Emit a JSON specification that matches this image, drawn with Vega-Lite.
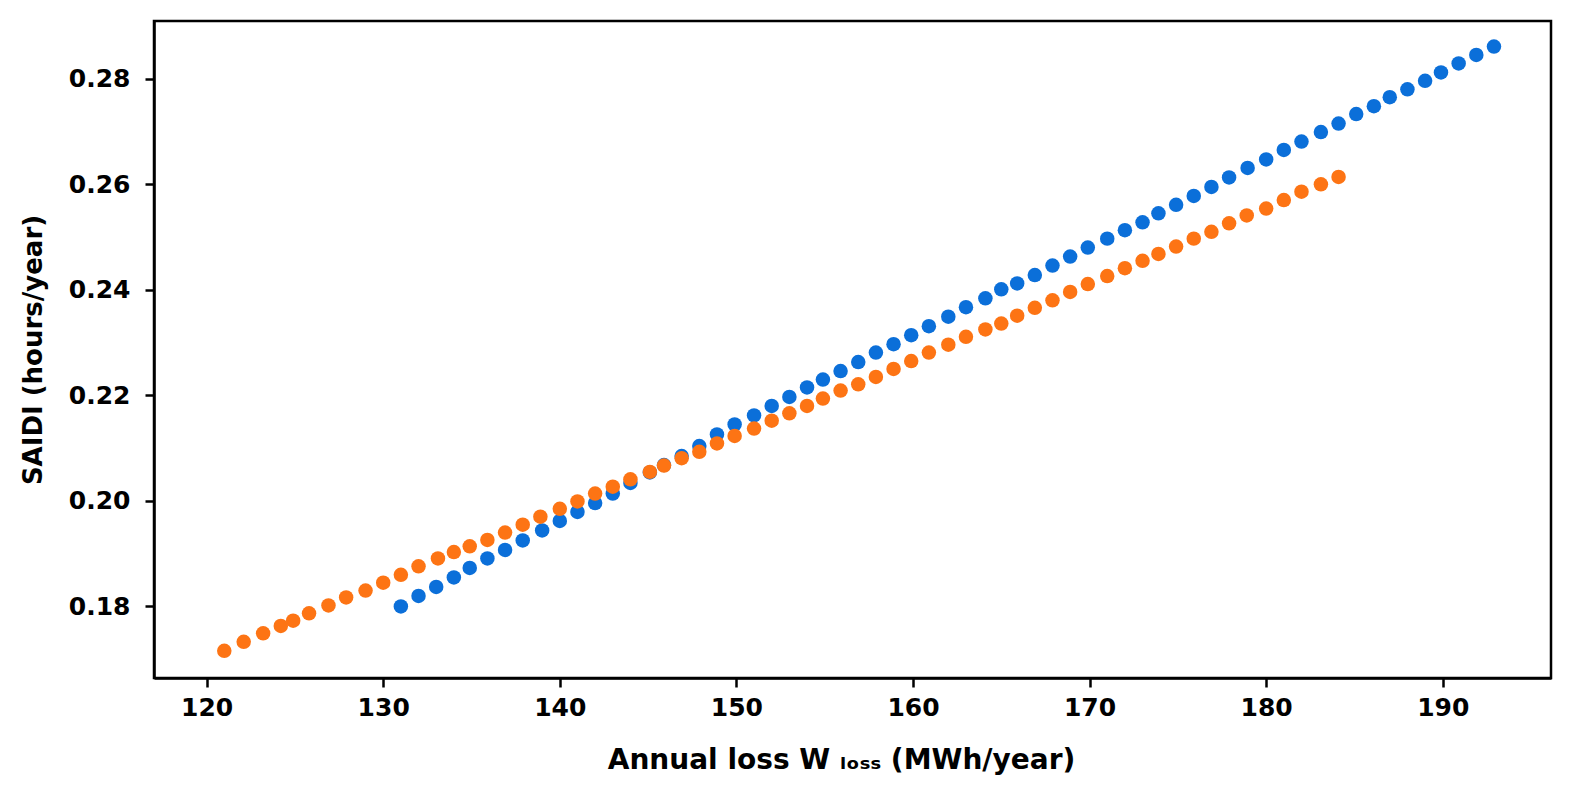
{
  "$schema": "https://vega.github.io/schema/vega-lite/v6.json",
  "width": 1397,
  "height": 657,
  "autosize": {"type": "none"},
  "padding": {"left": 154, "top": 21, "right": 20, "bottom": 115},
  "background": "white",
  "config": {
    "font": "DejaVu Sans",
    "view": {"stroke": "black", "strokeWidth": 2.5}
  },
  "data": {
    "values": [
      {"s": "blue", "w": 131, "saidi": 0.1800},
      {"s": "blue", "w": 132, "saidi": 0.1820},
      {"s": "blue", "w": 133, "saidi": 0.1837},
      {"s": "blue", "w": 134, "saidi": 0.1855},
      {"s": "blue", "w": 134.9, "saidi": 0.1873},
      {"s": "blue", "w": 135.9, "saidi": 0.1891},
      {"s": "blue", "w": 136.9, "saidi": 0.1907},
      {"s": "blue", "w": 137.9, "saidi": 0.1925},
      {"s": "blue", "w": 139, "saidi": 0.1944},
      {"s": "blue", "w": 140, "saidi": 0.1962},
      {"s": "blue", "w": 141, "saidi": 0.1979},
      {"s": "blue", "w": 142, "saidi": 0.1996},
      {"s": "blue", "w": 143, "saidi": 0.2014},
      {"s": "blue", "w": 144, "saidi": 0.2034},
      {"s": "blue", "w": 145.1, "saidi": 0.2054},
      {"s": "blue", "w": 145.9, "saidi": 0.2068},
      {"s": "blue", "w": 146.9, "saidi": 0.2085},
      {"s": "blue", "w": 147.9, "saidi": 0.2104},
      {"s": "blue", "w": 148.9, "saidi": 0.2126},
      {"s": "blue", "w": 149.9, "saidi": 0.2145},
      {"s": "blue", "w": 151, "saidi": 0.2162},
      {"s": "blue", "w": 152, "saidi": 0.2180},
      {"s": "blue", "w": 153, "saidi": 0.2197},
      {"s": "blue", "w": 154, "saidi": 0.2215},
      {"s": "blue", "w": 154.9, "saidi": 0.2230},
      {"s": "blue", "w": 155.9, "saidi": 0.2246},
      {"s": "blue", "w": 156.9, "saidi": 0.2263},
      {"s": "blue", "w": 157.9, "saidi": 0.2281},
      {"s": "blue", "w": 158.9, "saidi": 0.2297},
      {"s": "blue", "w": 159.9, "saidi": 0.2314},
      {"s": "blue", "w": 160.9, "saidi": 0.2331},
      {"s": "blue", "w": 162, "saidi": 0.2349},
      {"s": "blue", "w": 163, "saidi": 0.2367},
      {"s": "blue", "w": 164.1, "saidi": 0.2384},
      {"s": "blue", "w": 165, "saidi": 0.2401},
      {"s": "blue", "w": 165.9, "saidi": 0.2412},
      {"s": "blue", "w": 166.9, "saidi": 0.2428},
      {"s": "blue", "w": 167.9, "saidi": 0.2446},
      {"s": "blue", "w": 168.9, "saidi": 0.2463},
      {"s": "blue", "w": 169.9, "saidi": 0.2480},
      {"s": "blue", "w": 171, "saidi": 0.2497},
      {"s": "blue", "w": 172, "saidi": 0.2513},
      {"s": "blue", "w": 173, "saidi": 0.2528},
      {"s": "blue", "w": 173.9, "saidi": 0.2545},
      {"s": "blue", "w": 174.9, "saidi": 0.2561},
      {"s": "blue", "w": 175.9, "saidi": 0.2578},
      {"s": "blue", "w": 176.9, "saidi": 0.2595},
      {"s": "blue", "w": 177.9, "saidi": 0.2613},
      {"s": "blue", "w": 178.95, "saidi": 0.2631},
      {"s": "blue", "w": 180, "saidi": 0.2647},
      {"s": "blue", "w": 181, "saidi": 0.2665},
      {"s": "blue", "w": 182, "saidi": 0.2681},
      {"s": "blue", "w": 183.1, "saidi": 0.2699},
      {"s": "blue", "w": 184.1, "saidi": 0.2715},
      {"s": "blue", "w": 185.1, "saidi": 0.2733},
      {"s": "blue", "w": 186.1, "saidi": 0.2748},
      {"s": "blue", "w": 187, "saidi": 0.2765},
      {"s": "blue", "w": 188, "saidi": 0.2780},
      {"s": "blue", "w": 189, "saidi": 0.2796},
      {"s": "blue", "w": 189.9, "saidi": 0.2812},
      {"s": "blue", "w": 190.9, "saidi": 0.2829},
      {"s": "blue", "w": 191.9, "saidi": 0.2845},
      {"s": "blue", "w": 192.9, "saidi": 0.2861},
      {"s": "orange", "w": 121, "saidi": 0.1716},
      {"s": "orange", "w": 122.1, "saidi": 0.1733},
      {"s": "orange", "w": 123.2, "saidi": 0.1749},
      {"s": "orange", "w": 124.2, "saidi": 0.1763},
      {"s": "orange", "w": 124.9, "saidi": 0.1773},
      {"s": "orange", "w": 125.8, "saidi": 0.1787},
      {"s": "orange", "w": 126.9, "saidi": 0.1802},
      {"s": "orange", "w": 127.9, "saidi": 0.1817},
      {"s": "orange", "w": 129, "saidi": 0.1830},
      {"s": "orange", "w": 130, "saidi": 0.1845},
      {"s": "orange", "w": 131, "saidi": 0.1860},
      {"s": "orange", "w": 132, "saidi": 0.1876},
      {"s": "orange", "w": 133.1, "saidi": 0.1891},
      {"s": "orange", "w": 134, "saidi": 0.1903},
      {"s": "orange", "w": 134.9, "saidi": 0.1914},
      {"s": "orange", "w": 135.9, "saidi": 0.1926},
      {"s": "orange", "w": 136.9, "saidi": 0.1940},
      {"s": "orange", "w": 137.9, "saidi": 0.1955},
      {"s": "orange", "w": 138.9, "saidi": 0.1970},
      {"s": "orange", "w": 140, "saidi": 0.1985},
      {"s": "orange", "w": 141, "saidi": 0.1999},
      {"s": "orange", "w": 142, "saidi": 0.2014},
      {"s": "orange", "w": 143, "saidi": 0.2027},
      {"s": "orange", "w": 144, "saidi": 0.2041},
      {"s": "orange", "w": 145.1, "saidi": 0.2055},
      {"s": "orange", "w": 145.9, "saidi": 0.2067},
      {"s": "orange", "w": 146.9, "saidi": 0.2081},
      {"s": "orange", "w": 147.9, "saidi": 0.2093},
      {"s": "orange", "w": 148.9, "saidi": 0.2109},
      {"s": "orange", "w": 149.9, "saidi": 0.2123},
      {"s": "orange", "w": 151, "saidi": 0.2137},
      {"s": "orange", "w": 152, "saidi": 0.2152},
      {"s": "orange", "w": 153, "saidi": 0.2166},
      {"s": "orange", "w": 154, "saidi": 0.2180},
      {"s": "orange", "w": 154.9, "saidi": 0.2194},
      {"s": "orange", "w": 155.9, "saidi": 0.2209},
      {"s": "orange", "w": 156.9, "saidi": 0.2221},
      {"s": "orange", "w": 157.9, "saidi": 0.2235},
      {"s": "orange", "w": 158.9, "saidi": 0.2250},
      {"s": "orange", "w": 159.9, "saidi": 0.2265},
      {"s": "orange", "w": 160.9, "saidi": 0.2281},
      {"s": "orange", "w": 162, "saidi": 0.2296},
      {"s": "orange", "w": 163, "saidi": 0.2311},
      {"s": "orange", "w": 164.1, "saidi": 0.2325},
      {"s": "orange", "w": 165, "saidi": 0.2336},
      {"s": "orange", "w": 165.9, "saidi": 0.2351},
      {"s": "orange", "w": 166.9, "saidi": 0.2366},
      {"s": "orange", "w": 167.9, "saidi": 0.2380},
      {"s": "orange", "w": 168.9, "saidi": 0.2396},
      {"s": "orange", "w": 169.9, "saidi": 0.2411},
      {"s": "orange", "w": 171, "saidi": 0.2426},
      {"s": "orange", "w": 172, "saidi": 0.2441},
      {"s": "orange", "w": 173, "saidi": 0.2455},
      {"s": "orange", "w": 173.9, "saidi": 0.2468},
      {"s": "orange", "w": 174.9, "saidi": 0.2482},
      {"s": "orange", "w": 175.9, "saidi": 0.2497},
      {"s": "orange", "w": 176.9, "saidi": 0.2510},
      {"s": "orange", "w": 177.9, "saidi": 0.2526},
      {"s": "orange", "w": 178.9, "saidi": 0.2541},
      {"s": "orange", "w": 180, "saidi": 0.2554},
      {"s": "orange", "w": 181, "saidi": 0.2570},
      {"s": "orange", "w": 182, "saidi": 0.2586},
      {"s": "orange", "w": 183.1, "saidi": 0.2600},
      {"s": "orange", "w": 184.1, "saidi": 0.2614}
    ]
  },
  "mark": {"type": "circle", "size": 210, "opacity": 1},
  "encoding": {
    "x": {
      "field": "w",
      "type": "quantitative",
      "scale": {"domain": [117.02, 196.13], "nice": false, "zero": false},
      "axis": {
        "title": "Annual loss W ₗₒₛₛ  (MWh/year)",
        "values": [120, 130, 140, 150, 160, 170, 180, 190],
        "grid": false,
        "domainColor": "black",
        "domainWidth": 2.5,
        "tickColor": "black",
        "tickWidth": 2.5,
        "tickSize": 9,
        "labelFontSize": 25,
        "labelFontWeight": "bold",
        "labelColor": "black",
        "labelPadding": 8,
        "titleFontSize": 28,
        "titleFontWeight": "bold",
        "titleColor": "black",
        "titlePadding": 26,
        "titleX": 687
      }
    },
    "y": {
      "field": "saidi",
      "type": "quantitative",
      "scale": {"domain": [0.16644, 0.29094], "nice": false, "zero": false},
      "axis": {
        "title": "SAIDI (hours/year)",
        "values": [0.18, 0.2, 0.22, 0.24, 0.26, 0.28],
        "format": ".2f",
        "grid": false,
        "domainColor": "black",
        "domainWidth": 2.5,
        "tickColor": "black",
        "tickWidth": 2.5,
        "tickSize": 9,
        "labelFontSize": 25,
        "labelFontWeight": "bold",
        "labelColor": "black",
        "labelPadding": 15,
        "titleFontSize": 26,
        "titleFontWeight": "bold",
        "titleColor": "black",
        "titlePadding": 22
      }
    },
    "color": {
      "field": "s",
      "type": "nominal",
      "scale": {"domain": ["blue", "orange"], "range": ["#0b6fd9", "#fd7414"]},
      "legend": null
    }
  }
}
